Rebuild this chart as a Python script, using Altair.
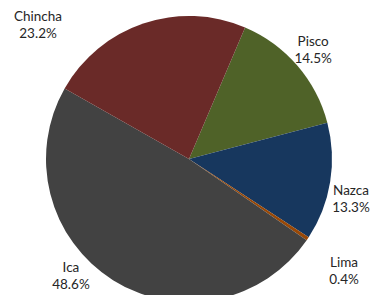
import math
import altair as alt
import pandas as pd

# data
regions = ["Pisco", "Nazca", "Lima", "Ica", "Chincha"]
shares = [14.5, 13.3, 0.4, 48.6, 23.2]
colors = ["#4F6228", "#17375E", "#984807", "#424242", "#6A2A28"]

# label placement (angle in degrees clockwise from top, distance in px from centre)
label_angle = [48.4, 103.5, 125.6, 225.5, 311.8]
label_dist = [166, 166.6, 190.6, 165.5, 202.5]

start = math.radians(23.1)

df = pd.DataFrame({
    "region": regions,
    "share": shares,
    "order": list(range(len(regions))),
    "label": [f"{r}\n{s:.1f}%" for r, s in zip(regions, shares)],
    "la": [math.radians(a) for a in label_angle],
    "ld": label_dist,
})

color_scale = alt.Scale(domain=regions, range=colors)

pie = alt.Chart(df).mark_arc(outerRadius=143).encode(
    theta=alt.Theta("share:Q", stack=True,
                    scale=alt.Scale(range=[start, start + 2 * math.pi])),
    order=alt.Order("order:Q"),
    color=alt.Color("region:N", scale=color_scale, legend=None),
)

labels = alt.Chart(df).mark_text(
    font="Lato", fontSize=13.5, lineHeight=17, color="#262626",
    align="center", baseline="middle", lineBreak="\n", dy=-7,
).encode(
    theta=alt.Theta("la:Q", scale=None),
    radius=alt.Radius("ld:Q", scale=None),
    text="label:N",
)

chart = alt.layer(pie, labels).resolve_scale(
    theta="independent", radius="independent"
).properties(
    width=362, height=272,
    padding={"left": 0, "top": 15, "right": 0, "bottom": 0},
    autosize=alt.AutoSizeParams(type="none"),
).configure_view(stroke=None).configure(background="white")

chart.save("out.html", embed_options={"renderer": "svg", "actions": False})
